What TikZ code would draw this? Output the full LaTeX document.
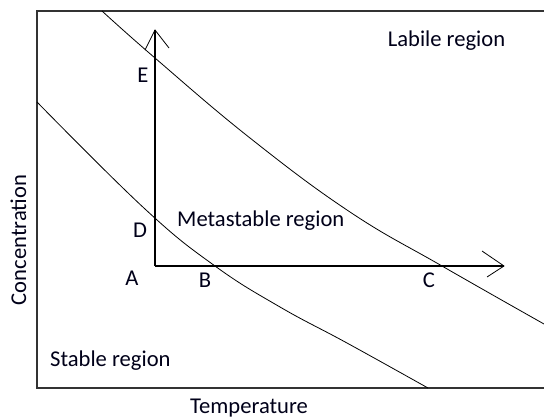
\documentclass[tikz,border=0pt]{standalone}
\usepackage{fontspec}
\setmainfont{Carlito}
\usetikzlibrary{calc}
\begin{document}
\begin{tikzpicture}[x=1pt,y=-1pt,
  lbl/.style={inner sep=0pt,anchor=base,font=\fontsize{22.6}{26}\selectfont,text=black!90!blue},
  frameline/.style={line width=1.3pt,draw=black!80},
  curveline/.style={line width=0.8pt,draw=black},
  axisline/.style={line width=1.1pt,draw=black}]
\useasboundingbox[fill=white] (0,0) rectangle (544,418);
% frame
\coordinate (tl) at (37,11);
\coordinate (bl) at (37,388);
\coordinate (tr) at (544,11);
\coordinate (br) at (544,388);
\draw[frameline] (tr) -- (tl) -- (bl) -- (br);
% curves
\draw[curveline] plot[smooth,tension=0.7] coordinates {(102,11) (155,58) (250,138) (350,212) (442,266) (544,324)};
\draw[curveline] plot[smooth,tension=0.7] coordinates {(37,102) (145,209) (215,266) (280,307) (347,343) (428,388)};
% points
\coordinate (A) at (155,266);
\coordinate (B) at (215,266);
\coordinate (C) at (442,266);
\coordinate (D) at (155,218);
\coordinate (E) at (155,58);
\coordinate (vtip) at (155,30);
\coordinate (htip) at (504,266);
% arrows
\draw[axisline] (A) -- (vtip);
\draw[axisline] (A) -- (htip);
\draw[curveline] ($(vtip)+(-10,20)$) -- (vtip) -- ($(vtip)+(14,18)$);
\draw[curveline] ($(htip)+(-22,-15)$) -- (htip) -- ($(htip)+(-17,11)$);
% labels
\node[lbl] (lE) at (143,82) {E};
\node[lbl] (lD) at (140,237) {D};
\node[lbl] (lA) at (132,285) {A};
\node[lbl] (lB) at (205,287) {B};
\node[lbl] (lC) at (429,287) {C};
\node[lbl] (labile) at (446.5,46) {Labile region};
\node[lbl,anchor=base west] (meta) at (177,226) {Metastable region};
\node[lbl,anchor=base west] (stable) at (50,366) {Stable region};
\node[lbl] (temp) at (249,413) {Temperature};
\node[lbl,rotate=90] (conc) at (26,240) {Concentration};
\end{tikzpicture}
\end{document}
